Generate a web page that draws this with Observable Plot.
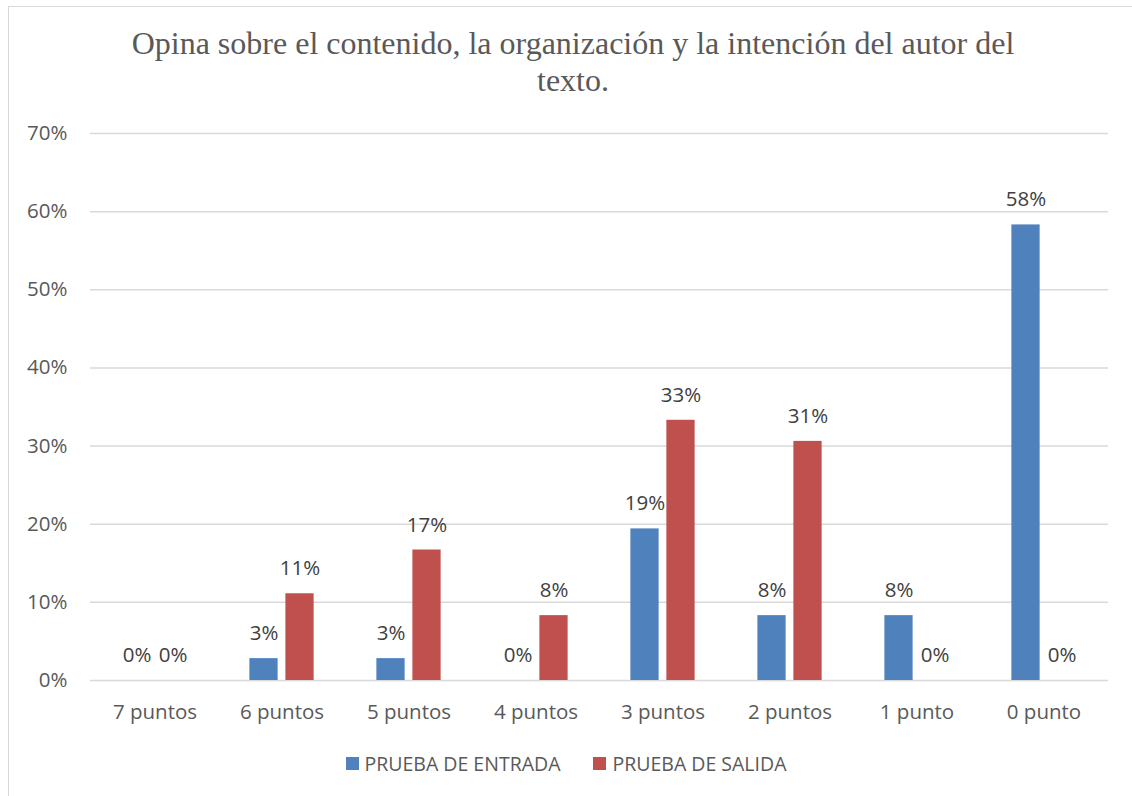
<!DOCTYPE html>
<html>
<head>
<meta charset="utf-8">
<script src="https://cdn.jsdelivr.net/npm/d3@7"></script>
<script src="https://cdn.jsdelivr.net/npm/@observablehq/plot@0.6"></script>
<style>
  html, body { margin: 0; padding: 0; background: #fff; }
  #page { position: relative; width: 1132px; height: 796px; overflow: hidden; }
  #frame { position: absolute; left: 8px; top: 6px; width: 1200px; height: 900px; border: 1.5px solid #d9d9d9; box-sizing: border-box; }
  #title { position: absolute; left: 0; top: 25px; width: 1146px; text-align: center; font-family: "Liberation Serif", "Times New Roman", serif; font-size: 32px; line-height: 37px; color: #595959; }
  #chart { position: absolute; left: 0; top: 0; }
  #legend { position: absolute; left: 0; top: 750px; width: 1132px; display: flex; justify-content: center; gap: 33px; font-family: "Open Sans", sans-serif; font-size: 19.5px; color: #595959; }
  .item { display: flex; align-items: center; gap: 6px; }
  .sw { width: 13px; height: 13px; display: inline-block; }
</style>
</head>
<body>
<div id="page">
  <div id="frame"></div>
  <div id="chart"></div>
  <div id="title">Opina sobre el contenido, la organización y la intención del autor del<br>texto.</div>
  <div id="legend"></div>
</div>
<script>
const categories = ["7 puntos", "6 puntos", "5 puntos", "4 puntos", "3 puntos", "2 puntos", "1 punto", "0 punto"];
const series = ["PRUEBA DE ENTRADA", "PRUEBA DE SALIDA"];
const entrada = [0, 2.8, 2.8, 0, 19.4, 8.3, 8.3, 58.3];
const salida = [0, 11.1, 16.7, 8.3, 33.3, 30.6, 0, 0];
const colors = ["#4f81bd", "#c0504d"];
const yTicks = [0, 10, 20, 30, 40, 50, 60, 70];

const rows = [];
categories.forEach((c, i) => {
  rows.push({cat: c, series: series[0], value: entrada[i]});
  rows.push({cat: c, series: series[1], value: salida[i]});
});

const band = (1132 - 90 - 24) / categories.length;
const barW = 28.5, gap = 7.5;
const outer = (band - 2 * barW - gap) / 2;
const offset = (barW + gap) / 2;
const font = "'Open Sans', sans-serif";

const plot = Plot.plot({
  width: 1132,
  height: 740,
  marginTop: 133,
  marginBottom: 60,
  marginLeft: 90,
  marginRight: 24,
  style: {fontFamily: font, fontSize: "20.5px", color: "#595959", background: "transparent"},
  x: {domain: categories, padding: 0, label: null, tickSize: 0, tickPadding: 24},
  y: {domain: [0, 70], ticks: yTicks, label: null, tickSize: 0, tickPadding: 23, tickFormat: d => d + "%"},
  color: {domain: series, range: colors},
  marks: [
    Plot.gridY(yTicks, {stroke: "#d9d9d9", strokeOpacity: 1, strokeWidth: 1.5}),
    Plot.barY(rows.filter(d => d.series === series[0]), {x: "cat", y: "value", fill: "series", insetLeft: outer, insetRight: outer + barW + gap}),
    Plot.barY(rows.filter(d => d.series === series[1]), {x: "cat", y: "value", fill: "series", insetLeft: outer + barW + gap, insetRight: outer}),
    Plot.text(rows.filter(d => d.series === series[0]), {x: "cat", y: "value", text: d => Math.round(d.value) + "%", dx: -offset, dy: -25, fill: "#404040", fontSize: 20.5}),
    Plot.text(rows.filter(d => d.series === series[1]), {x: "cat", y: "value", text: d => Math.round(d.value) + "%", dx: offset, dy: -25, fill: "#404040", fontSize: 20.5})
  ]
});
document.getElementById("chart").appendChild(plot);

const legend = document.getElementById("legend");
series.forEach((s, i) => {
  const it = document.createElement("div");
  it.className = "item";
  const sw = document.createElement("span");
  sw.className = "sw";
  sw.style.background = colors[i];
  const t = document.createElement("span");
  t.textContent = s;
  it.appendChild(sw); it.appendChild(t);
  legend.appendChild(it);
});
</script>
</body>
</html>
